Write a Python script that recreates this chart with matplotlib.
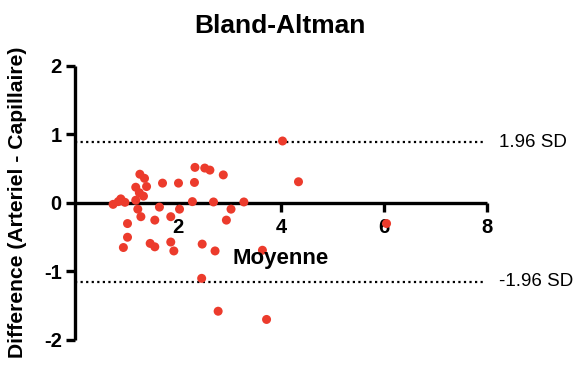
import matplotlib
matplotlib.use("Agg")
import matplotlib.pyplot as plt

mean_vals = [4.03, 4.34, 2.33, 2.52, 2.62, 2.88, 2.32, 2.01, 1.70, 1.26, 1.35, 1.18, 1.39,
             1.25, 1.33, 1.18, 0.89, 0.74, 0.97, 0.84, 2.28, 2.69, 3.28, 1.22, 1.64, 2.03,
             3.03, 1.28, 1.55, 1.86, 2.94, 1.02, 1.02, 0.94, 1.46, 1.55, 1.86, 1.92, 2.47,
             2.72, 3.64, 2.46, 2.78, 3.72, 6.05]
diff_vals = [0.905, 0.31, 0.52, 0.51, 0.48, 0.41, 0.30, 0.29, 0.29, 0.42, 0.36, 0.23, 0.24,
             0.15, 0.10, 0.04, 0.06, -0.02, 0.01, 0.02, 0.02, 0.015, 0.015, -0.09, -0.06, -0.09,
             -0.09, -0.20, -0.25, -0.20, -0.25, -0.30, -0.50, -0.65, -0.59, -0.64, -0.57, -0.70, -0.60,
             -0.70, -0.69, -1.10, -1.58, -1.70, -0.30]
upper_sd = 0.89
lower_sd = -1.15
x_ticks = [2, 4, 6, 8]
y_ticks = [-2, -1, 0, 1, 2]

plt.rcParams['font.family'] = ['Liberation Sans', 'DejaVu Sans']
plt.rcParams['axes.unicode_minus'] = False

fig = plt.figure(figsize=(5.83, 3.65), dpi=100)
ax = fig.add_axes([0.1286, 0.0685, 0.7067, 0.7507])

ax.scatter(mean_vals, diff_vals, s=42, color='#EC3B2C', edgecolors='none', zorder=3, clip_on=False)

ax.plot([0, 7.92], [upper_sd, upper_sd], color='black', linestyle=(0, (1, 1.5)), linewidth=1.6, zorder=2)
ax.plot([0, 7.92], [lower_sd, lower_sd], color='black', linestyle=(0, (1, 1.5)), linewidth=1.6, zorder=2)

ax.set_xlim(0, 8)
ax.set_ylim(-2, 2)

ax.spines['top'].set_visible(False)
ax.spines['right'].set_visible(False)
ax.spines['bottom'].set_position(('data', 0))
for sp in ['left', 'bottom']:
    ax.spines[sp].set_linewidth(2.4)
    ax.spines[sp].set_capstyle('butt')

ax.set_xticks(x_ticks)
ax.set_yticks(y_ticks)
ax.tick_params(axis='both', which='major', width=2.4, length=6.5, direction='out',
               labelsize=14.5)
ax.tick_params(axis='x', pad=4)
ax.tick_params(axis='y', pad=3)
for lab in ax.get_xticklabels() + ax.get_yticklabels():
    lab.set_fontweight('bold')

ax.text(1.03, upper_sd, '1.96 SD', transform=ax.get_yaxis_transform(), ha='left',
        va='center', fontsize=13.5)
ax.text(1.03, lower_sd, '-1.96 SD', transform=ax.get_yaxis_transform(), ha='left',
        va='center', fontsize=13.5)

fig.text(0.48, 0.93, 'Bland-Altman', ha='center', va='center', fontsize=19, fontweight='bold')
fig.text(0.482, 0.292, 'Moyenne', ha='center', va='center', fontsize=16, fontweight='bold')
fig.text(0.03, 0.447, 'Difference (Arteriel - Capillaire)', ha='center', va='center',
         rotation=90, fontsize=15.2, fontweight='bold')

fig.savefig('out.png', dpi=100)
